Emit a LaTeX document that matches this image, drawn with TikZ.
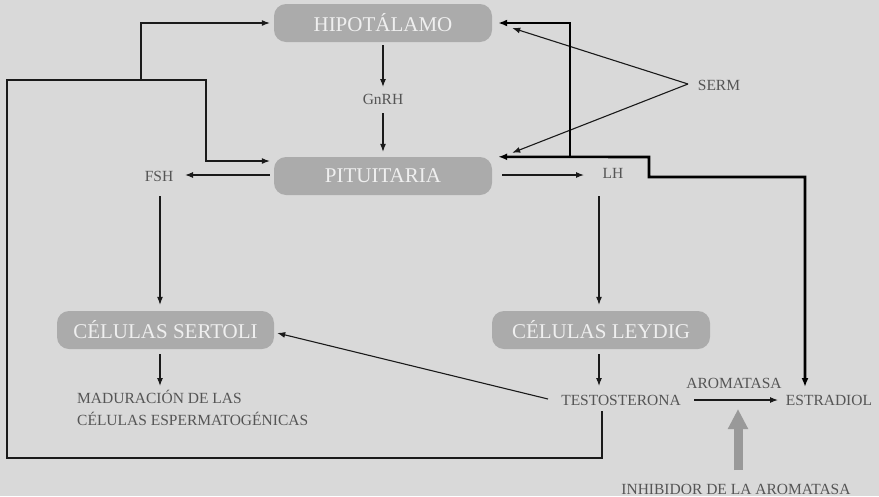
\documentclass[tikz,border=0pt]{standalone}
\usepackage{fontspec}
\setmainfont{Liberation Serif}
\usetikzlibrary{arrows.meta,calc}
\definecolor{bg}{HTML}{D9D9D9}
\definecolor{boxfill}{HTML}{ABABAB}
\definecolor{boxtext}{HTML}{EFEFEF}
\definecolor{label}{HTML}{555555}
\definecolor{wire}{HTML}{1A1A1A}
\definecolor{blocker}{HTML}{999999}

\begin{document}
\begin{tikzpicture}[x=1pt,y=-1pt,
  organ/.style={fill=boxfill, rounded corners=12pt, minimum width=218pt,
    minimum height=38pt, text=boxtext, font=\fontsize{21}{25}\selectfont, inner sep=0pt},
  hormone/.style={text=label, font=\fontsize{15.5}{22}\selectfont, inner sep=0pt},
  link/.style={draw=wire, line width=1.1pt, -{Latex[length=8pt 0 0,width=6pt 0 0]}},
  estro/.style={draw=black, line width=2.6pt},
  etip/.style={-{Latex[length=9pt 0 0,width=7pt 0 0]}},
  block/.style={draw=blocker, line width=9pt, -{Triangle[length=20pt 0 0,width=19pt 0 0]}}]

% background and page size
\fill[bg] (0,0) rectangle (879,496);
\path[use as bounding box] (0,0) rectangle (879,496);

% organs
\node[organ] (hyp) at (383,23) {HIPOTÁLAMO};
\node[organ] (pit) at (383,176) {PITUITARIA};
\node[organ, minimum width=217pt] (ser) at (165.5,330) {CÉLULAS SERTOLI};
\node[organ] (ley) at (601,330) {CÉLULAS LEYDIG};

% hormones and labels
\node[hormone] (gnrh) at (383,99) {GnRH};
\node[hormone] (fsh) at (159,176) {FSH};
\node[hormone] (lh) at (613,173) {LH};
\node[hormone] (serm) at (719,85) {SERM};
\node[hormone] (tes) at (621,400) {TESTOSTERONA};
\node[hormone] (est) at (829,400) {ESTRADIOL};
\node[hormone] (aro) at (734,383) {AROMATASA};
\node[hormone] (inh) at (736,489) {INHIBIDOR DE LA AROMATASA};
\node[hormone, align=left, anchor=west] (mat) at (77,408)
  {MADURACIÓN DE LAS\\CÉLULAS ESPERMATOGÉNICAS};

% main axis
\draw[link] ($(hyp.south)+(0,3)$) -- ($(gnrh)+(0,-12)$);
\draw[link] ($(gnrh)+(0,14)$) -- ($(pit.north)+(0,-5)$);
\draw[link] ($(pit.west)+(-4,-1)$) -- ($(fsh)+(26,-1)$);
\draw[link] ($(pit.east)+(10,-1)$) -- ($(lh)+(-29,2)$);
\draw[link] ($(fsh)+(1,20)$) -- ($(ser.north)+(-5.5,-6)$);
\draw[link] ($(lh)+(-14,23)$) -- ($(ley.north)+(-2,-6)$);
\draw[link] ($(ser.south)+(-5.5,5)$) -- ($(mat.west)+(83,-22)$);
\draw[link] ($(ley.south)+(-2,5)$) -- ($(tes)+(-22,-14)$);
\draw[link] ($(tes)+(-73,-1)$) -- ($(ser.east)+(3,3)$);
\draw[link] ($(tes)+(73,0)$) -- ($(est)+(-51,0)$);

% aromatase inhibitor
\draw[block] ($(inh)+(2,-19)$) -- ($(inh)+(2,-80)$);

% SERM action
\draw[link] ($(serm)+(-31,-1)$) -- ($(hyp.east)+(20,5)$);
\draw[link] ($(serm)+(-31,-1)$) -- ($(pit.north east)+(20,-4)$);

% testosterone feedback loop
\draw[link] ($(tes)+(-19,11)$) |- (7,458) |- (206,80) |- ($(pit.west)+(-4,-15)$);
\draw[link] (141,80) |- ($(hyp.west)+(-4,0)$);

% estradiol feedback
\draw[estro, {Latex[length=9pt 0 0,width=7pt 0 0]}-{Latex[length=9pt 0 0,width=7pt 0 0]}]
  ($(pit.north east)+(6,0)$) -- (649,157) -- (649,177) -| ($(est)+(-24,-13)$);
\draw[estro, etip] (570,157) |- ($(hyp.east)+(6,0)$);
\end{tikzpicture}
\end{document}
